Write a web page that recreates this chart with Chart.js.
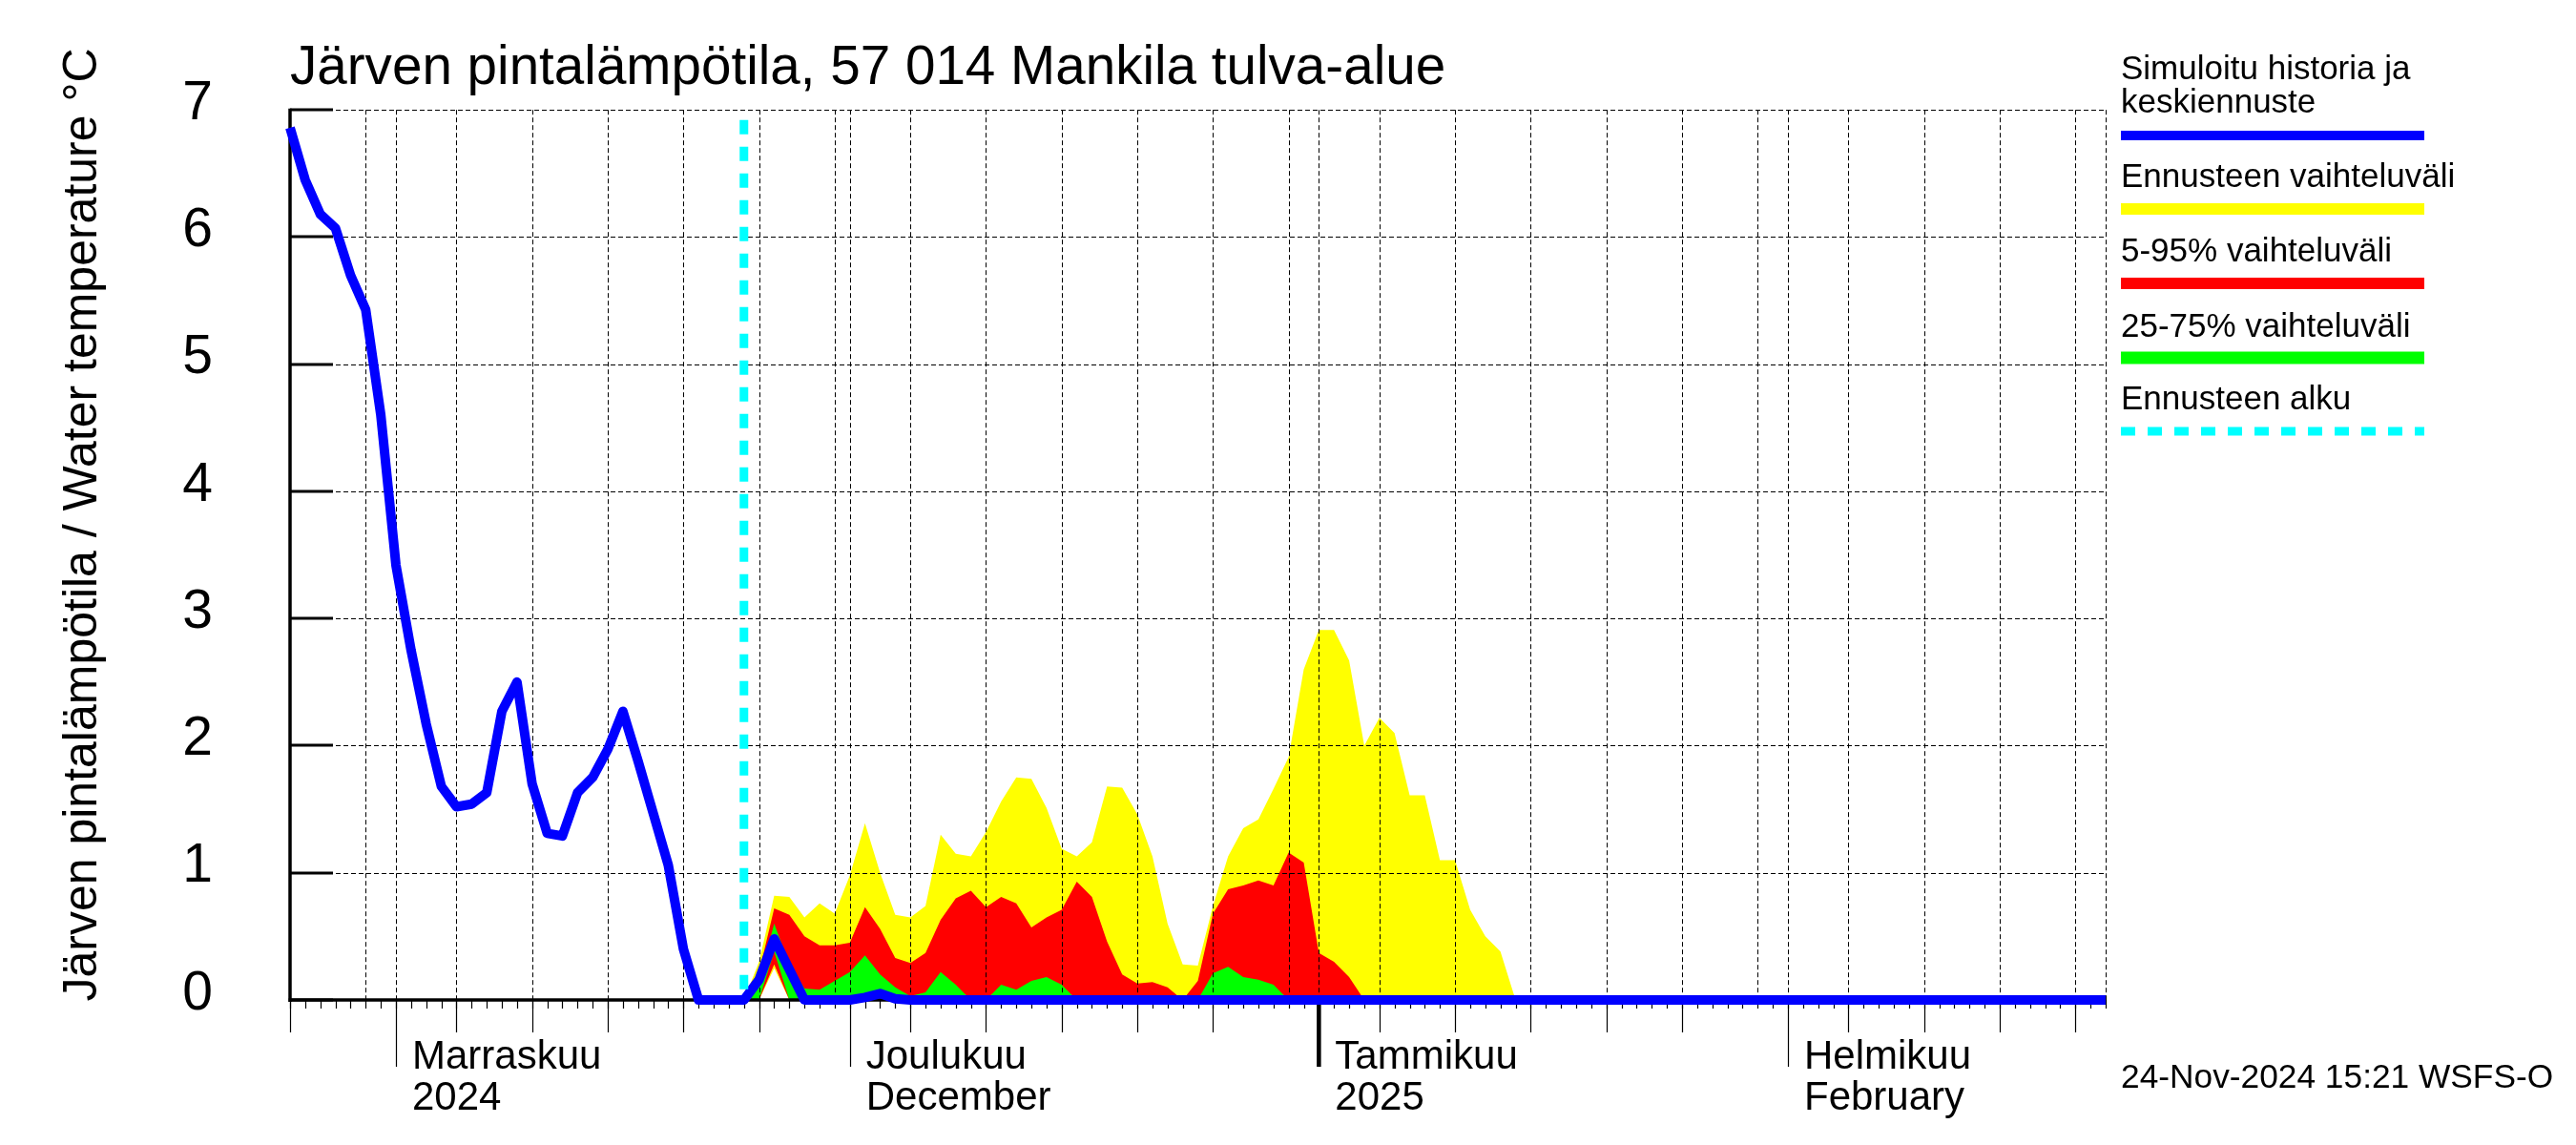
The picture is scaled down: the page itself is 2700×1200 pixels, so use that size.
<!DOCTYPE html>
<html>
<head>
<meta charset="utf-8">
<script src="https://cdn.jsdelivr.net/npm/chart.js@4.4.1/dist/chart.umd.min.js"></script>
<style>
  html, body { margin: 0; padding: 0; background: #ffffff; }
  #wrap { width: 2700px; height: 1200px; }
</style>
</head>
<body>
<div id="wrap"><canvas id="c" width="2700" height="1200"></canvas></div>
<script>
// ---------------- data ----------------
const chartTitle = 'Järven pintalämpötila, 57 014 Mankila tulva-alue';
const yAxisTitle = 'Järven pintalämpötila / Water temperature °C';
const stampText = '24-Nov-2024 15:21 WSFS-O';

const startDate = '2024-10-25';
const endDate = '2025-02-22';
const forecastStartDate = '2024-11-24';

// Simulated history + median forecast, one value per day from startDate
const medianTemp = [
  6.86, 6.45, 6.18, 6.07, 5.70, 5.43, 4.60, 3.42, 2.75, 2.17,
  1.68, 1.52, 1.54, 1.63, 2.27, 2.50, 1.70, 1.31, 1.29, 1.63,
  1.75, 1.97, 2.27, 1.88, 1.47, 1.06, 0.40, 0, 0, 0,
  0, 0.16, 0.48, 0.24, 0, 0, 0, 0, 0.02, 0.05,
  0.01, 0, 0, 0, 0, 0, 0, 0, 0, 0,
  0, 0, 0, 0, 0, 0, 0, 0, 0, 0,
  0, 0, 0, 0, 0, 0, 0, 0, 0, 0,
  0, 0, 0, 0, 0, 0, 0, 0, 0, 0,
  0, 0, 0, 0, 0, 0, 0, 0, 0, 0,
  0, 0, 0, 0, 0, 0, 0, 0, 0, 0,
  0, 0, 0, 0, 0, 0, 0, 0, 0, 0,
  0, 0, 0, 0, 0, 0, 0, 0, 0, 0,
  0
];

// Forecast bands, one value per day from forecastStartDate
const rangeMax = [
  0, 0.30, 0.82, 0.81, 0.65, 0.76, 0.68, 0.98, 1.39, 1.00,
  0.67, 0.65, 0.74, 1.30, 1.15, 1.13, 1.32, 1.56, 1.75, 1.74,
  1.51, 1.19, 1.13, 1.24, 1.68, 1.67, 1.46, 1.13, 0.60, 0.28,
  0.27, 0.74, 1.13, 1.35, 1.42, 1.66, 1.91, 2.60, 2.91, 2.91,
  2.67, 2.00, 2.22, 2.10, 1.61, 1.61, 1.10, 1.10, 0.71, 0.50,
  0.38, 0, 0
];
const rangeMin = [
  0, 0, 0.25, 0, 0, 0, 0, 0, 0, 0,
  0, 0, 0, 0, 0, 0, 0, 0, 0, 0,
  0, 0, 0, 0, 0, 0, 0, 0, 0, 0,
  0, 0, 0, 0, 0, 0, 0, 0, 0, 0,
  0, 0, 0, 0, 0, 0, 0, 0, 0, 0,
  0, 0, 0
];
const p95 = [
  0, 0.22, 0.72, 0.67, 0.50, 0.43, 0.43, 0.45, 0.73, 0.56,
  0.33, 0.29, 0.37, 0.63, 0.80, 0.86, 0.73, 0.81, 0.76, 0.57,
  0.65, 0.71, 0.93, 0.81, 0.46, 0.20, 0.13, 0.14, 0.10, 0,
  0.15, 0.68, 0.87, 0.90, 0.94, 0.90, 1.16, 1.08, 0.37, 0.30,
  0.18, 0, 0, 0, 0, 0, 0, 0, 0, 0,
  0, 0, 0
];
const p05 = [
  0, 0, 0.28, 0, 0, 0, 0, 0, 0, 0,
  0, 0, 0, 0, 0, 0, 0, 0, 0, 0,
  0, 0, 0, 0, 0, 0, 0, 0, 0, 0,
  0, 0, 0, 0, 0, 0, 0, 0, 0, 0,
  0, 0, 0, 0, 0, 0, 0, 0, 0, 0,
  0, 0, 0
];
const p75 = [
  0, 0.15, 0.60, 0.28, 0.09, 0.08, 0.15, 0.22, 0.35, 0.20,
  0.10, 0.03, 0.06, 0.22, 0.12, 0, 0, 0.12, 0.08, 0.15,
  0.18, 0.12, 0, 0, 0, 0, 0, 0, 0, 0,
  0, 0.21, 0.26, 0.18, 0.16, 0.12, 0, 0, 0, 0,
  0, 0, 0, 0, 0, 0, 0, 0, 0, 0,
  0, 0, 0
];
const p25 = [
  0, 0, 0.38, 0, 0, 0, 0, 0, 0, 0,
  0, 0, 0, 0, 0, 0, 0, 0, 0, 0,
  0, 0, 0, 0, 0, 0, 0, 0, 0, 0,
  0, 0, 0, 0, 0, 0, 0, 0, 0, 0,
  0, 0, 0, 0, 0, 0, 0, 0, 0, 0,
  0, 0, 0
];
const forecastLineTop = 6.92;

// axis ticks
const yTickValues = [0, 1, 2, 3, 4, 5, 6, 7];
const monthStartDates = ['2024-11-01', '2024-12-01', '2025-01-01', '2025-02-01'];
const monthLabels = [['Marraskuu', '2024'], ['Joulukuu', 'December'], ['Tammikuu', '2025'], ['Helmikuu', 'February']];
const yearStartDates = ['2025-01-01'];
const gridDates = [
  '2024-10-30', '2024-11-01', '2024-11-05', '2024-11-10', '2024-11-15', '2024-11-20', '2024-11-25', '2024-11-30',
  '2024-12-01', '2024-12-05', '2024-12-10', '2024-12-15', '2024-12-20', '2024-12-25', '2024-12-30',
  '2025-01-01', '2025-01-05', '2025-01-10', '2025-01-15', '2025-01-20', '2025-01-25', '2025-01-30',
  '2025-02-01', '2025-02-05', '2025-02-10', '2025-02-15', '2025-02-20', '2025-02-22'
];
const mediumTickDates = [
  '2024-10-25', '2024-11-05', '2024-11-10', '2024-11-15', '2024-11-20', '2024-11-25',
  '2024-12-05', '2024-12-10', '2024-12-15', '2024-12-20', '2024-12-25',
  '2025-01-05', '2025-01-10', '2025-01-15', '2025-01-20', '2025-01-25',
  '2025-02-05', '2025-02-10', '2025-02-15', '2025-02-20'
];

const legendItems = [
  { lines: ['Simuloitu historia ja', 'keskiennuste'], color: '#0000FF', width: 10, dash: [] },
  { lines: ['Ennusteen vaihteluväli'], color: '#FFFF00', width: 12, dash: [] },
  { lines: ['5-95% vaihteluväli'], color: '#FF0000', width: 12, dash: [] },
  { lines: ['25-75% vaihteluväli'], color: '#00FF00', width: 13, dash: [] },
  { lines: ['Ennusteen alku'], color: '#00FFFF', width: 9, dash: [15, 13] }
];

// ---------------- helpers ----------------
const DAY_MS = 86400000;
function utc(s) { const p = s.split('-').map(Number); return Date.UTC(p[0], p[1] - 1, p[2]); }
const T0 = utc(startDate);
function dayIndex(s) { return Math.round((utc(s) - T0) / DAY_MS); }
const lastDay = dayIndex(endDate);
const fcDay = dayIndex(forecastStartDate);
const monthStartDays = monthStartDates.map(dayIndex);
const toPts = (arr, offset) => arr.map((v, i) => ({ x: offset + i, y: v }));

const FONT = "'Liberation Sans', Arial, Helvetica, sans-serif";

// ---------------- plugins ----------------
function seg(ctx, x1, y1, x2, y2) { ctx.beginPath(); ctx.moveTo(x1, y1); ctx.lineTo(x2, y2); ctx.stroke(); }

const gridPlugin = {
  id: 'refGrid',
  beforeDatasetDraw(chart, args) {
    if (args.index !== 1) return; // draw grid just under the median line
    const { ctx, chartArea: a, scales: { x, y } } = chart;
    ctx.save();
    ctx.strokeStyle = '#000000';
    ctx.lineWidth = 1;
    ctx.setLineDash([5, 3]);
    yTickValues.forEach(v => {
      if (v === 0) return;
      const py = Math.round(y.getPixelForValue(v)) + 0.5;
      seg(ctx, a.left, py, a.right, py);
    });
    gridDates.forEach(d => {
      const px = Math.round(x.getPixelForValue(dayIndex(d))) + 0.5;
      seg(ctx, px, a.top, px, a.bottom);
    });
    ctx.setLineDash([]);
    // left axis + inner ticks
    ctx.lineWidth = 3.5;
    seg(ctx, a.left, a.top - 1.5, a.left, a.bottom + 2);
    ctx.lineWidth = 3;
    yTickValues.forEach(v => {
      const py = Math.round(y.getPixelForValue(v));
      seg(ctx, a.left, py, a.left + 45, py);
    });
    // bottom axis
    ctx.lineWidth = 3.5;
    seg(ctx, a.left - 1.5, a.bottom, a.right, a.bottom);
    // x ticks
    ctx.lineWidth = 1.2;
    for (let d = 0; d <= lastDay; d++) {
      const px = Math.round(x.getPixelForValue(d)) + 0.5;
      seg(ctx, px, a.bottom, px, a.bottom + 9);
    }
    mediumTickDates.forEach(s => {
      const px = Math.round(x.getPixelForValue(dayIndex(s))) + 0.5;
      seg(ctx, px, a.bottom, px, a.bottom + 34);
    });
    monthStartDates.forEach(s => {
      const px = Math.round(x.getPixelForValue(dayIndex(s))) + 0.5;
      seg(ctx, px, a.bottom, px, a.bottom + 70);
    });
    ctx.lineWidth = 4.5;
    yearStartDates.forEach(s => {
      const px = x.getPixelForValue(dayIndex(s));
      seg(ctx, px, a.bottom + 4, px, a.bottom + 70);
    });
    ctx.restore();
  }
};

const textPlugin = {
  id: 'refText',
  afterDraw(chart) {
    const { ctx } = chart;
    ctx.save();
    ctx.fillStyle = '#000000';
    ctx.textBaseline = 'alphabetic';
    // title
    ctx.textAlign = 'left';
    ctx.font = `56.6px ${FONT}`;
    ctx.fillText(chartTitle, 304, 88);
    // y axis title
    ctx.save();
    ctx.translate(101, 550);
    ctx.rotate(-Math.PI / 2);
    ctx.textAlign = 'center';
    ctx.font = `50px ${FONT}`;
    ctx.fillText(yAxisTitle, 0, 0);
    ctx.restore();
    // legend
    ctx.font = `35px ${FONT}`;
    ctx.textAlign = 'left';
    const lx = 2223, lx2 = 2541;
    const baselines = [[83, 118], [196], [274], [353], [429]];
    const lineYs = [142, 219, 297, 375, 452];
    legendItems.forEach((it, i) => {
      it.lines.forEach((t, j) => ctx.fillText(t, lx, baselines[i][j]));
      ctx.save();
      ctx.strokeStyle = it.color;
      ctx.lineWidth = it.width;
      ctx.setLineDash(it.dash);
      ctx.lineCap = 'butt';
      seg(ctx, lx, lineYs[i], lx2, lineYs[i]);
      ctx.restore();
    });
    // stamp
    ctx.font = `35.3px ${FONT}`;
    ctx.fillText(stampText, 2223, 1140);
    ctx.restore();
  }
};

// ---------------- chart ----------------
const noLine = { borderWidth: 0, borderColor: 'rgba(0,0,0,0)', pointRadius: 0, tension: 0 };

new Chart(document.getElementById('c'), {
  type: 'line',
  data: {
    datasets: [
      { label: 'Ennusteen alku', data: [{ x: fcDay, y: forecastLineTop }, { x: fcDay, y: 0 }],
        borderColor: '#00FFFF', borderWidth: 9, borderDash: [15, 13], borderCapStyle: 'butt',
        pointRadius: 0, fill: false, order: 0, clip: false },
      { label: 'Simuloitu historia ja keskiennuste', data: toPts(medianTemp, 0),
        borderColor: '#0000FF', borderWidth: 10, borderJoinStyle: 'round', borderCapStyle: 'butt',
        pointRadius: 0, tension: 0, fill: false, order: 1, clip: false },
      Object.assign({ label: '25-75% vaihteluväli', data: toPts(p75, fcDay), backgroundColor: '#00FF00', fill: '+1', order: 2 }, noLine),
      Object.assign({ label: 'p25', data: toPts(p25, fcDay), fill: false, order: 2 }, noLine),
      Object.assign({ label: '5-95% vaihteluväli', data: toPts(p95, fcDay), backgroundColor: '#FF0000', fill: '+1', order: 3 }, noLine),
      Object.assign({ label: 'p05', data: toPts(p05, fcDay), fill: false, order: 3 }, noLine),
      Object.assign({ label: 'Ennusteen vaihteluväli', data: toPts(rangeMax, fcDay), backgroundColor: '#FFFF00', fill: '+1', order: 4 }, noLine),
      Object.assign({ label: 'min', data: toPts(rangeMin, fcDay), fill: false, order: 4 }, noLine)
    ]
  },
  options: {
    responsive: false,
    animation: false,
    devicePixelRatio: 1,
    events: [],
    layout: { padding: { left: 0, right: 493, top: 114, bottom: 0 } },
    plugins: { legend: { display: false }, tooltip: { enabled: false }, title: { display: false } },
    scales: {
      x: {
        type: 'linear', min: 0, max: lastDay,
        grid: { display: false, drawTicks: false },
        border: { display: false },
        afterBuildTicks: s => { s.ticks = monthStartDays.map(v => ({ value: v })); },
        afterFit: s => { s.height = 152; },
        ticks: {
          autoSkip: false, maxRotation: 0, minRotation: 0, align: 'start', labelOffset: 17, padding: 39,
          color: '#000000', font: { family: FONT, size: 42, lineHeight: 1.03 },
          callback: v => monthLabels[monthStartDays.indexOf(v)]
        }
      },
      y: {
        type: 'linear', min: 0, max: 7,
        grid: { display: false, drawTicks: false },
        border: { display: false },
        afterFit: s => { s.width = 304; },
        afterBuildTicks: s => { s.ticks = yTickValues.map(v => ({ value: v })); },
        ticks: { padding: 81, labelOffset: -6, color: '#000000', font: { family: FONT, size: 57 },
          callback: v => String(v) }
      }
    }
  },
  plugins: [gridPlugin, textPlugin]
});
</script>
</body>
</html>
